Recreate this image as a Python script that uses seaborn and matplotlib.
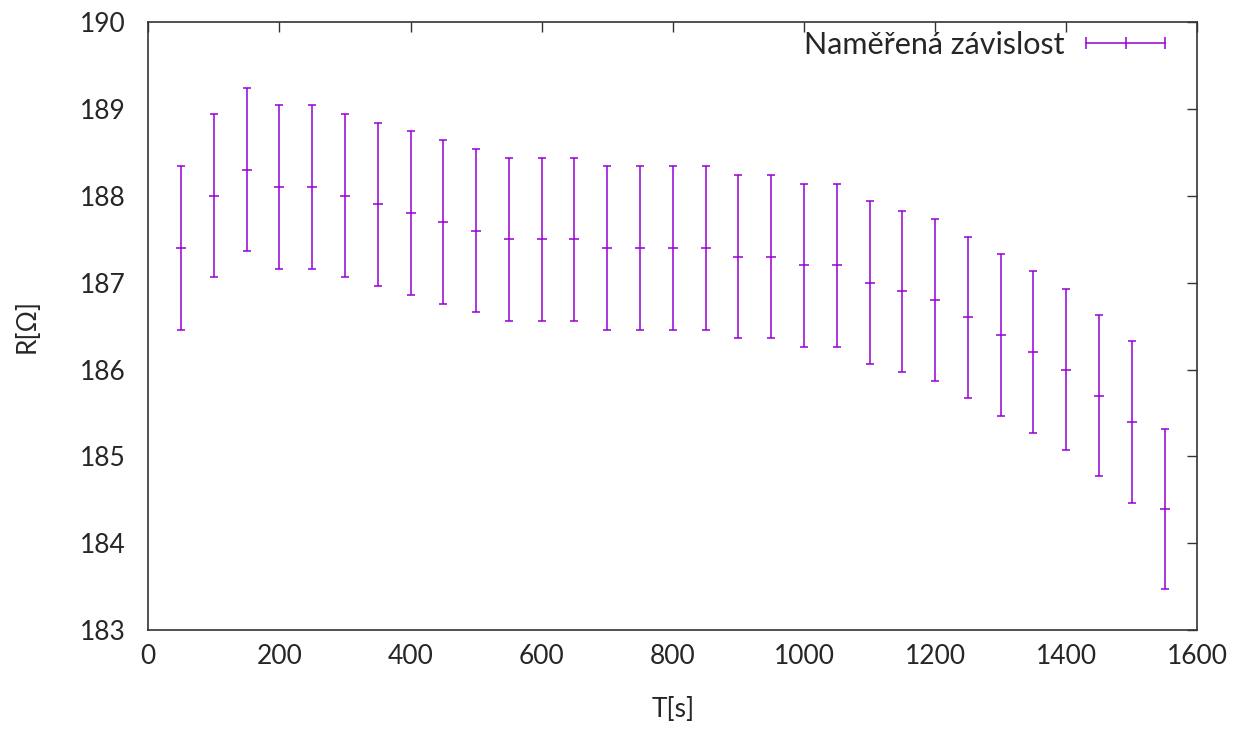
import numpy as np
import pandas as pd
import matplotlib
matplotlib.use("Agg")
import matplotlib.pyplot as plt
import seaborn as sns
from matplotlib.lines import Line2D
from matplotlib.legend_handler import HandlerBase
from matplotlib.container import ErrorbarContainer

# data
t = [50, 100, 150, 200, 250, 300, 350, 400, 450, 500, 550, 600, 650, 700, 750, 800,
     850, 900, 950, 1000, 1050, 1100, 1150, 1200, 1250, 1300, 1350, 1400, 1450, 1500, 1550]
r = [187.4, 188.0, 188.3, 188.1, 188.1, 188.0, 187.9, 187.8, 187.7, 187.6, 187.5, 187.5,
     187.5, 187.4, 187.4, 187.4, 187.4, 187.3, 187.3, 187.2, 187.2, 187.0, 186.9, 186.8,
     186.6, 186.4, 186.2, 186.0, 185.7, 185.4, 184.4]
r_err = [0.94, 0.94, 0.94, 0.94, 0.94, 0.94, 0.94, 0.94, 0.94, 0.94, 0.94, 0.94,
         0.94, 0.94, 0.94, 0.94, 0.94, 0.94, 0.94, 0.94, 0.94, 0.94, 0.93, 0.93,
         0.93, 0.93, 0.93, 0.93, 0.93, 0.93, 0.92]

df = pd.DataFrame({"T": t, "R": r, "err": r_err})
col = "#9400D3"


# gnuplot-like legend sample: horizontal bar with end caps and a center tick
class HandlerXErr(HandlerBase):
    def create_artists(self, legend, orig_handle, xdescent, ydescent, width, height, fontsize, trans):
        y = height / 2 - ydescent
        x0, x1 = -xdescent, width - xdescent
        line = Line2D([x0, x1], [y, y], color=col, lw=1.1)
        ticks = Line2D([x0, (x0 + x1) / 2, x1], [y, y, y], ls="", marker="|",
                       ms=8, mew=1.1, color=col)
        line.set_transform(trans)
        ticks.set_transform(trans)
        return [line, ticks]


sns.set_style("white")
plt.rcParams["font.family"] = ["Lato", "DejaVu Sans"]
plt.rcParams["font.size"] = 19

fig, ax = plt.subplots(figsize=(12.46, 7.32), dpi=100)
fig.subplots_adjust(left=0.119, right=0.961, top=0.970, bottom=0.139)

ax.errorbar(df["T"], df["R"], yerr=df["err"], fmt="none", ecolor=col,
            elinewidth=1.1, capsize=3.2, capthick=1.1, label="Naměřená závislost")
sns.scatterplot(data=df, x="T", y="R", marker="_", s=45, color=col, linewidth=1.1,
                ax=ax, legend=False)

ax.set_xlim(0, 1600)
ax.set_ylim(183, 190)
ax.set_xticks(np.arange(0, 1601, 200))
ax.set_yticks(np.arange(183, 191, 1))
ax.tick_params(direction="in", top=True, right=True, length=7, width=1,
               labelsize=19, color="#333333")
ax.tick_params(axis="y", pad=16)
ax.tick_params(axis="x", pad=10)
for s in ax.spines.values():
    s.set_color("#333333")
    s.set_linewidth(1.2)

ax.set_xlabel("T[s]", fontsize=19, labelpad=20)
ax.set_ylabel("R[Ω]", fontsize=19, labelpad=29)

handles, labels = ax.get_legend_handles_labels()
ax.legend(handles, labels, loc="upper right", bbox_to_anchor=(0.9695, 0.985),
          frameon=False, markerfirst=False, fontsize=22, handlelength=2.6,
          handletextpad=0.7, borderaxespad=0, borderpad=0,
          handler_map={ErrorbarContainer: HandlerXErr()})

fig.savefig("out.png", dpi=100)
